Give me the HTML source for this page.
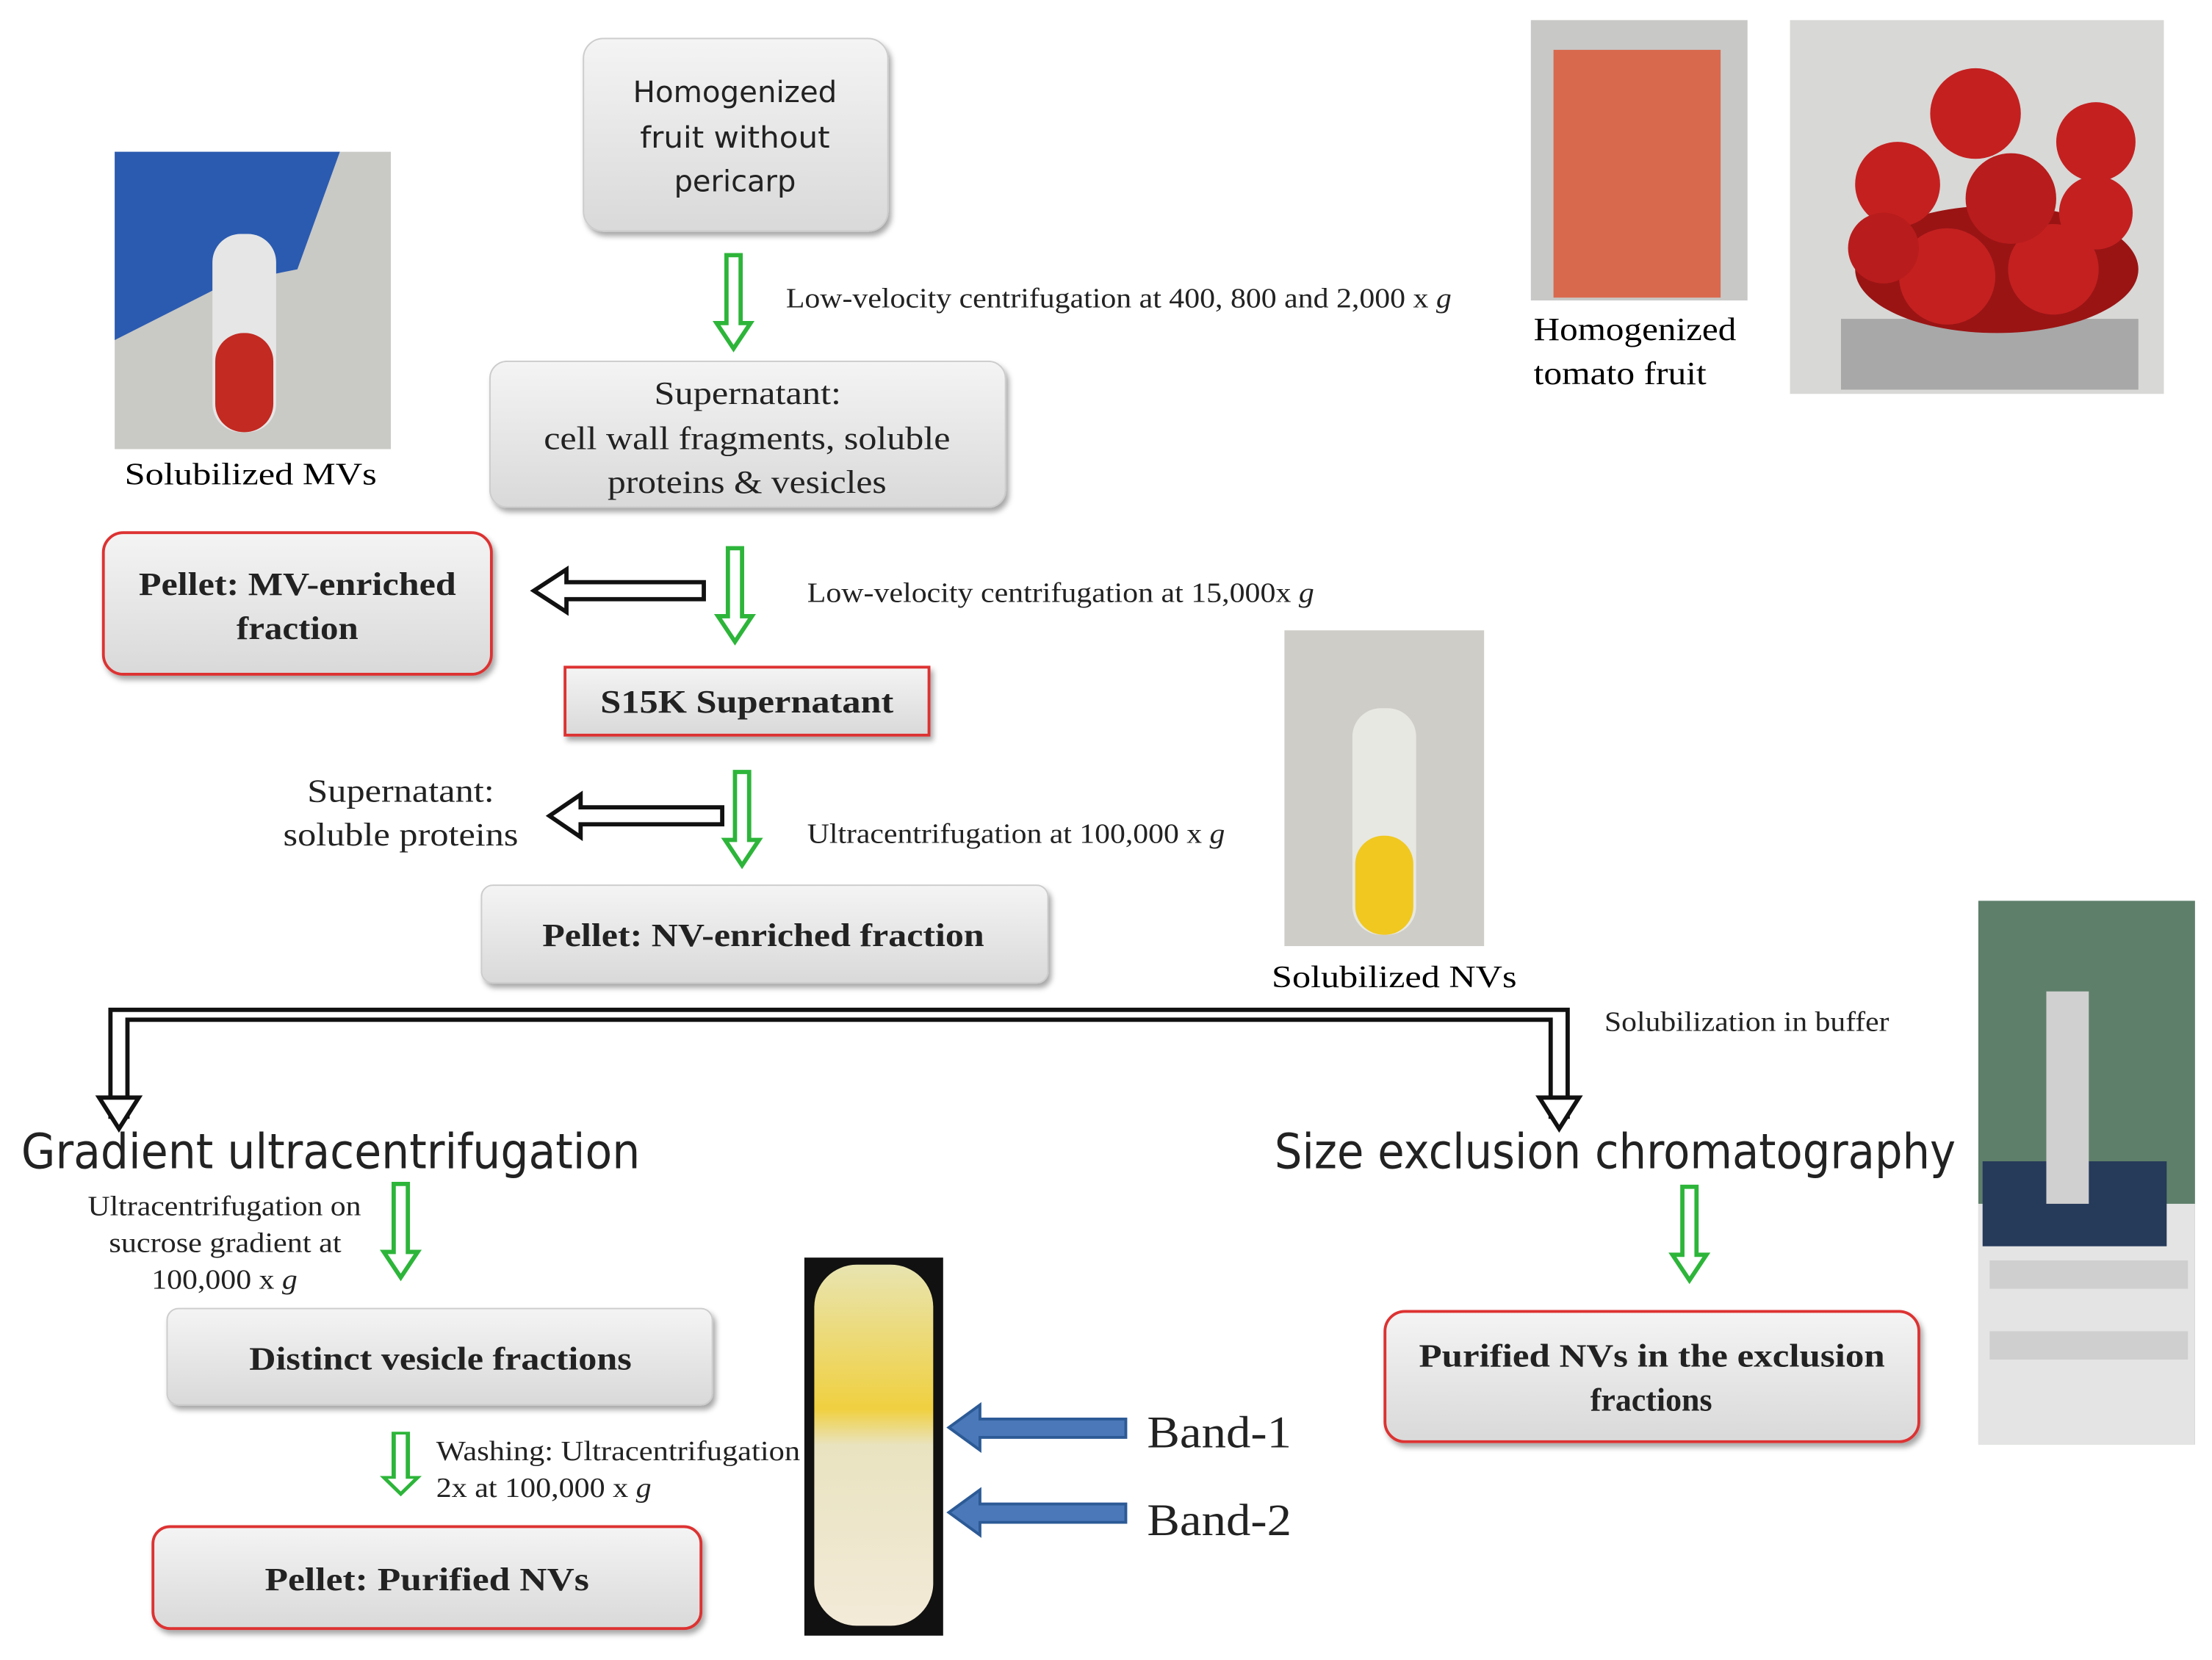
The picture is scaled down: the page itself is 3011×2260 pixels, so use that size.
<!DOCTYPE html>
<html><head><meta charset="utf-8">
<style>
html,body{margin:0;padding:0;background:#fff;}
svg{display:block;}
.serif{font-family:"Liberation Serif",serif;}
.sans{font-family:"DejaVu Sans","Liberation Sans",sans-serif;}
</style></head>
<body>
<svg width="3011" height="2260" viewBox="0 0 1562 1172" xmlns="http://www.w3.org/2000/svg">
<defs>
<linearGradient id="bx" x1="0" y1="0" x2="0" y2="1">
<stop offset="0" stop-color="#f4f4f4"/><stop offset="1" stop-color="#d9d9d9"/></linearGradient>
<filter id="sh" x="-10%" y="-10%" width="130%" height="140%"><feDropShadow dx="2" dy="3" stdDeviation="2" flood-color="#000" flood-opacity="0.35"/></filter>
<linearGradient id="tub" x1="0" y1="0" x2="0" y2="1">
<stop offset="0" stop-color="#e8e4b0"/><stop offset="0.4" stop-color="#f0d040"/><stop offset="0.5" stop-color="#e9e3c0"/><stop offset="1" stop-color="#f3ead8"/></linearGradient>
<g id="garrow"><polygon points="-5,0 5,0 5,48 12,48 0,66 -12,48 -5,48" fill="#fff" stroke="#2db53a" stroke-width="3"/></g>
</defs>
<rect width="1562" height="1172" fill="#fff"/>

<!-- photos -->
<rect x="81" y="107" width="195" height="210" fill="#c9c9c6"/>
<path d="M81 107 L240 107 L210 190 L160 200 L81 240 Z" fill="#2b5bb0"/>
<rect x="150" y="165" width="45" height="140" rx="20" fill="#e6e6e6"/>
<rect x="152" y="235" width="41" height="70" rx="20" fill="#c22a22"/>
<text x="88" y="342" class="serif" font-size="22" textLength="178" lengthAdjust="spacingAndGlyphs">Solubilized MVs</text>

<rect x="1081" y="14" width="153" height="198" fill="#c8c8c6"/>
<rect x="1097" y="35" width="118" height="175" fill="#d9694d"/>
<text x="1083" y="240" class="serif" font-size="23" textLength="143" lengthAdjust="spacingAndGlyphs">Homogenized</text>
<text x="1083" y="271" class="serif" font-size="23" textLength="122" lengthAdjust="spacingAndGlyphs">tomato fruit</text>

<rect x="1264" y="14" width="264" height="264" fill="#d8d8d6"/>
<rect x="1300" y="225" width="210" height="50" fill="#a8a8a8"/>
<ellipse cx="1410" cy="190" rx="100" ry="45" fill="#9a1414"/>
<circle cx="1340" cy="130" r="30" fill="#c42020"/><circle cx="1395" cy="80" r="32" fill="#c42020"/>
<circle cx="1480" cy="100" r="28" fill="#c42020"/><circle cx="1450" cy="190" r="32" fill="#c42020"/>
<circle cx="1375" cy="195" r="34" fill="#c42020"/><circle cx="1420" cy="140" r="32" fill="#b81c1c"/>
<circle cx="1480" cy="150" r="26" fill="#c42020"/><circle cx="1330" cy="175" r="25" fill="#b81c1c"/>

<rect x="907" y="445" width="141" height="223" fill="#cfcdc8"/>
<rect x="955" y="500" width="45" height="160" rx="20" fill="#e8e8e2"/>
<rect x="957" y="590" width="41" height="70" rx="20" fill="#f0c820"/>
<text x="898" y="697" class="serif" font-size="22" textLength="173" lengthAdjust="spacingAndGlyphs">Solubilized NVs</text>

<rect x="1397" y="636" width="153" height="384" fill="#5e7f6a"/>
<rect x="1397" y="850" width="153" height="170" fill="#e4e4e4"/>
<rect x="1400" y="820" width="130" height="60" fill="#263a5a"/>
<rect x="1445" y="700" width="30" height="150" fill="#d0d0d0"/>
<rect x="1405" y="890" width="140" height="20" fill="#cfcfcf"/>
<rect x="1405" y="940" width="140" height="20" fill="#cfcfcf"/>

<rect x="568" y="888" width="98" height="267" fill="#111"/>
<rect x="575" y="893" width="84" height="255" rx="30" fill="url(#tub)"/>

<!-- boxes -->
<g filter="url(#sh)">
<rect x="412" y="27" width="215" height="136" rx="14" fill="url(#bx)" stroke="#ccc"/>
<rect x="346" y="255" width="364" height="103" rx="12" fill="url(#bx)" stroke="#ccc"/>
<rect x="73" y="376" width="274" height="100" rx="14" fill="url(#bx)" stroke="#d33" stroke-width="2"/>
<rect x="399" y="471" width="257" height="48" fill="url(#bx)" stroke="#d33" stroke-width="2"/>
<rect x="340" y="625" width="400" height="69" rx="8" fill="url(#bx)" stroke="#ccc"/>
<rect x="118" y="924" width="385" height="68" rx="8" fill="url(#bx)" stroke="#ccc"/>
<rect x="108" y="1078" width="387" height="72" rx="12" fill="url(#bx)" stroke="#d33" stroke-width="2"/>
<rect x="978" y="926" width="377" height="92" rx="14" fill="url(#bx)" stroke="#d33" stroke-width="2"/>
</g>

<g class="sans" font-size="21" fill="#222" lengthAdjust="spacingAndGlyphs">
<text x="447" y="72" textLength="144" lengthAdjust="spacingAndGlyphs">Homogenized</text>
<text x="452" y="104" textLength="134" lengthAdjust="spacingAndGlyphs">fruit without</text>
<text x="476" y="135" textLength="86" lengthAdjust="spacingAndGlyphs">pericarp</text>
</g>
<g class="serif" font-size="23" fill="#222">
<text x="462" y="285" textLength="132" lengthAdjust="spacingAndGlyphs">Supernatant:</text>
<text x="384" y="317" textLength="287" lengthAdjust="spacingAndGlyphs">cell wall fragments, soluble</text>
<text x="429" y="348" textLength="197" lengthAdjust="spacingAndGlyphs">proteins &amp; vesicles</text>
<text x="217" y="566" textLength="132" lengthAdjust="spacingAndGlyphs">Supernatant:</text>
<text x="200" y="597" textLength="166" lengthAdjust="spacingAndGlyphs">soluble proteins</text>
</g>
<g class="serif" font-size="23" font-weight="bold" fill="#222">
<text x="98" y="420" textLength="224" lengthAdjust="spacingAndGlyphs">Pellet: MV-enriched</text>
<text x="167" y="451" textLength="86" lengthAdjust="spacingAndGlyphs">fraction</text>
<text x="424" y="503" textLength="207" lengthAdjust="spacingAndGlyphs">S15K Supernatant</text>
<text x="383" y="668" textLength="312" lengthAdjust="spacingAndGlyphs">Pellet: NV-enriched fraction</text>
<text x="176" y="967" textLength="270" lengthAdjust="spacingAndGlyphs">Distinct vesicle fractions</text>
<text x="187" y="1123" textLength="229" lengthAdjust="spacingAndGlyphs">Pellet: Purified  NVs</text>
<text x="1002" y="965" textLength="329" lengthAdjust="spacingAndGlyphs">Purified  NVs in the exclusion</text>
<text x="1123" y="996" textLength="86" lengthAdjust="spacingAndGlyphs">fractions</text>
</g>

<!-- labels -->
<g class="serif" font-size="20" fill="#222">
<text x="555" y="217" textLength="470" lengthAdjust="spacingAndGlyphs">Low-velocity centrifugation at 400, 800 and 2,000 x <tspan font-style="italic">g</tspan></text>
<text x="570" y="425" textLength="358" lengthAdjust="spacingAndGlyphs">Low-velocity centrifugation at 15,000x <tspan font-style="italic">g</tspan></text>
<text x="570" y="595" textLength="295" lengthAdjust="spacingAndGlyphs">Ultracentrifugation at 100,000 x <tspan font-style="italic">g</tspan></text>
<text x="1133" y="728" textLength="201" lengthAdjust="spacingAndGlyphs">Solubilization in buffer</text>
<text x="62" y="858" textLength="193" lengthAdjust="spacingAndGlyphs">Ultracentrifugation on</text>
<text x="77" y="884" textLength="164" lengthAdjust="spacingAndGlyphs">sucrose gradient at</text>
<text x="107" y="910" textLength="103" lengthAdjust="spacingAndGlyphs">100,000 x <tspan font-style="italic">g</tspan></text>
<text x="308" y="1031" textLength="257" lengthAdjust="spacingAndGlyphs">Washing: Ultracentrifugation</text>
<text x="308" y="1057" textLength="152" lengthAdjust="spacingAndGlyphs">2x at 100,000 x <tspan font-style="italic">g</tspan></text>
</g>
<text x="15" y="825" class="sans" font-size="34" fill="#222" textLength="437" lengthAdjust="spacingAndGlyphs">Gradient ultracentrifugation</text>
<text x="900" y="825" class="sans" font-size="34" fill="#222" textLength="481" lengthAdjust="spacingAndGlyphs">Size exclusion chromatography</text>
<text x="810" y="1022" class="serif" font-size="32" fill="#222" textLength="102" lengthAdjust="spacingAndGlyphs">Band-1</text>
<text x="810" y="1084" class="serif" font-size="32" fill="#222" textLength="102" lengthAdjust="spacingAndGlyphs">Band-2</text>

<!-- green arrows -->
<use href="#garrow" x="518" y="180"/>
<use href="#garrow" x="519" y="387"/>
<use href="#garrow" x="524" y="545"/>
<use href="#garrow" x="283" y="836"/>
<g transform="translate(283,1012) scale(1,0.65)"><polygon points="-5,0 5,0 5,48 12,48 0,66 -12,48 -5,48" fill="#fff" stroke="#2db53a" stroke-width="3"/></g>
<use href="#garrow" x="1193" y="838"/>

<!-- hollow left arrows -->
<polygon points="497,411 497,423 400,423 400,432 377,417 400,402 400,411" fill="#fff" stroke="#111" stroke-width="3"/>
<polygon points="510,570 510,582 410,582 410,591 388,576 410,561 410,570" fill="#fff" stroke="#111" stroke-width="3"/>

<!-- bracket -->
<polyline points="78,790 78,713 1107,713 1107,790" fill="none" stroke="#111" stroke-width="3"/>
<polyline points="90,790 90,720 1095,720 1095,790" fill="none" stroke="#111" stroke-width="3"/>
<polygon points="78,775 70,775 84,797 98,775 90,775" fill="#fff" stroke="#111" stroke-width="3"/>
<polygon points="1095,775 1087,775 1101,797 1115,775 1107,775" fill="#fff" stroke="#111" stroke-width="3"/>

<!-- blue arrows -->
<polygon points="795,1002 795,1015 692,1015 692,1024 670,1008 692,992 692,1002" fill="#4a78b8" stroke="#2c5a96" stroke-width="2"/>
<polygon points="795,1062 795,1075 692,1075 692,1084 670,1068 692,1052 692,1062" fill="#4a78b8" stroke="#2c5a96" stroke-width="2"/>
</svg>
</body></html>
